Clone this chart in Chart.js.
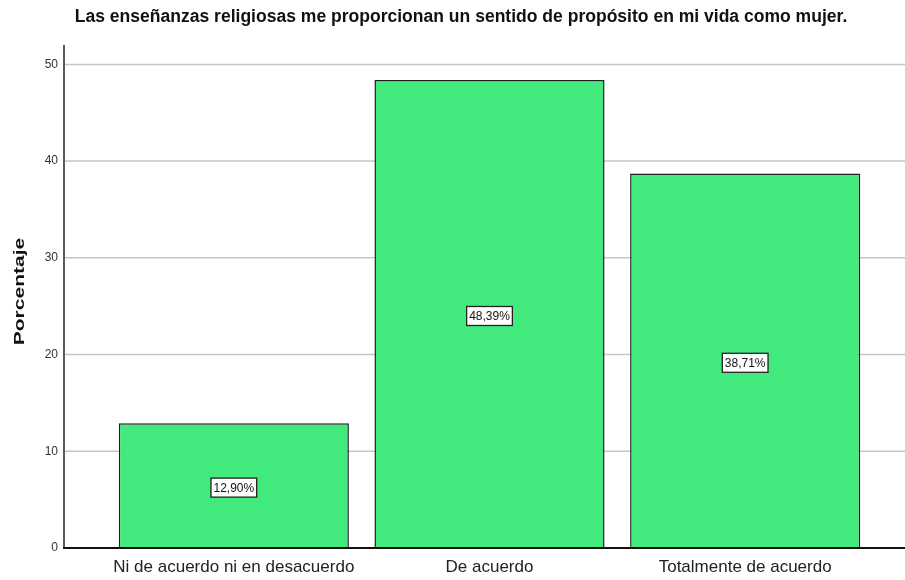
<!DOCTYPE html>
<html>
<head>
<meta charset="utf-8">
<script src="https://cdn.jsdelivr.net/npm/chart.js@4.4.1/dist/chart.umd.min.js"></script>
<style>
  html, body { margin: 0; padding: 0; background: #fff; }
  #wrap { width: 905px; height: 580px; }
</style>
</head>
<body>
<div id="wrap"><canvas id="barChart"></canvas></div>
<script>
const categories = ["Ni de acuerdo ni en desacuerdo", "De acuerdo", "Totalmente de acuerdo"];
const percentages = [12.90, 48.39, 38.71];
const yTicks = [0, 10, 20, 30, 40, 50];
const chartTitle = "Las enseñanzas religiosas me proporcionan un sentido de propósito en mi vida como mujer.";
const yTitle = "Porcentaje";

const sans = "'Liberation Sans', Arial, sans-serif";

// gridlines + axis lines reach past the bars, like the SPSS output
const frameLines = {
  id: 'frameLines',
  beforeDatasetsDraw(chart) {
    const ctx = chart.ctx;
    const y = chart.scales.y;
    const left = chart.chartArea.left - 42;
    ctx.save();
    ctx.strokeStyle = '#c6c6c6';
    ctx.lineWidth = 1.5;
    yTicks.forEach(v => {
      if (v === 0) return;
      const py = y.getPixelForValue(v);
      ctx.beginPath();
      ctx.moveTo(left, py);
      ctx.lineTo(chart.width, py);
      ctx.stroke();
    });
    ctx.restore();
  },
  afterDatasetsDraw(chart) {
    const ctx = chart.ctx;
    const y = chart.scales.y;
    const left = chart.chartArea.left - 42;
    const base = y.getPixelForValue(0);
    ctx.save();
    ctx.lineWidth = 2;
    ctx.strokeStyle = '#5a5a5a';
    ctx.beginPath();
    ctx.moveTo(left, y.getPixelForValue(y.max));
    ctx.lineTo(left, base);
    ctx.stroke();
    ctx.strokeStyle = '#111';
    ctx.beginPath();
    ctx.moveTo(left - 1, base);
    ctx.lineTo(chart.width, base);
    ctx.stroke();

    // value boxes in the middle of each bar
    ctx.font = '12px ' + sans;
    ctx.textAlign = 'center';
    ctx.textBaseline = 'middle';
    chart.getDatasetMeta(0).data.forEach((bar, i) => {
      const p = bar.getProps(['x', 'y', 'base'], true);
      const cy = (p.y + p.base) / 2 + 2;
      const txt = percentages[i].toFixed(2).replace('.', ',') + '%';
      const w = ctx.measureText(txt).width + 5;
      const h = 19;
      ctx.fillStyle = '#fff';
      ctx.fillRect(p.x - w / 2, cy - h / 2, w, h);
      ctx.lineWidth = 1.3;
      ctx.strokeStyle = '#222';
      ctx.strokeRect(p.x - w / 2, cy - h / 2, w, h);
      ctx.fillStyle = '#111';
      ctx.fillText(txt, p.x, cy + 1);
    });

    // y axis title, stretched along its length
    const a = chart.chartArea;
    ctx.translate(20, (a.top + a.bottom) / 2 - 5);
    ctx.rotate(-Math.PI / 2);
    ctx.scale(1.4, 1);
    ctx.font = 'bold 15px ' + sans;
    ctx.fillStyle = '#111';
    ctx.fillText(yTitle, 0, 0);
    ctx.restore();
  }
};

const ctx = document.getElementById('barChart').getContext('2d');
const myChart = new Chart(ctx, {
  type: 'bar',
  plugins: [frameLines],
  data: {
    labels: categories,
    datasets: [{
      data: percentages,
      backgroundColor: '#42EA7E',
      borderColor: '#1e1e1e',
      borderWidth: 1.5,
      barPercentage: 0.9,
      categoryPercentage: 1.0
    }]
  },
  options: {
    responsive: true,
    maintainAspectRatio: false,
    animation: false,
    layout: { padding: { left: 17, right: 0, top: 0, bottom: 0 } },
    plugins: {
      legend: { display: false },
      tooltip: { enabled: false },
      title: {
        display: true,
        text: chartTitle,
        color: '#111',
        font: { family: sans, size: 17.55, weight: 'bold' },
        padding: { top: 7, bottom: 17 }
      }
    },
    scales: {
      x: {
        offset: true,
        grid: { display: false, drawTicks: false },
        border: { display: false },
        afterFit(scale) {
          scale.height = 32;
          scale.paddingLeft = 0;
          scale.paddingRight = 32;
        },
        ticks: {
          color: '#222',
          padding: 9,
          maxRotation: 0,
          minRotation: 0,
          autoSkip: false,
          font: { family: sans, size: 17 }
        }
      },
      y: {
        min: 0,
        max: 52,
        grid: { display: false, drawTicks: false },
        border: { display: false },
        afterFit(scale) {
          scale.width = 89;
          scale.paddingTop = 0;
          scale.paddingBottom = 0;
        },
        ticks: {
          stepSize: 10,
          includeBounds: false,
          padding: 48,
          color: '#333',
          font: { family: sans, size: 12 }
        }
      }
    }
  }
});
</script>
</body>
</html>
